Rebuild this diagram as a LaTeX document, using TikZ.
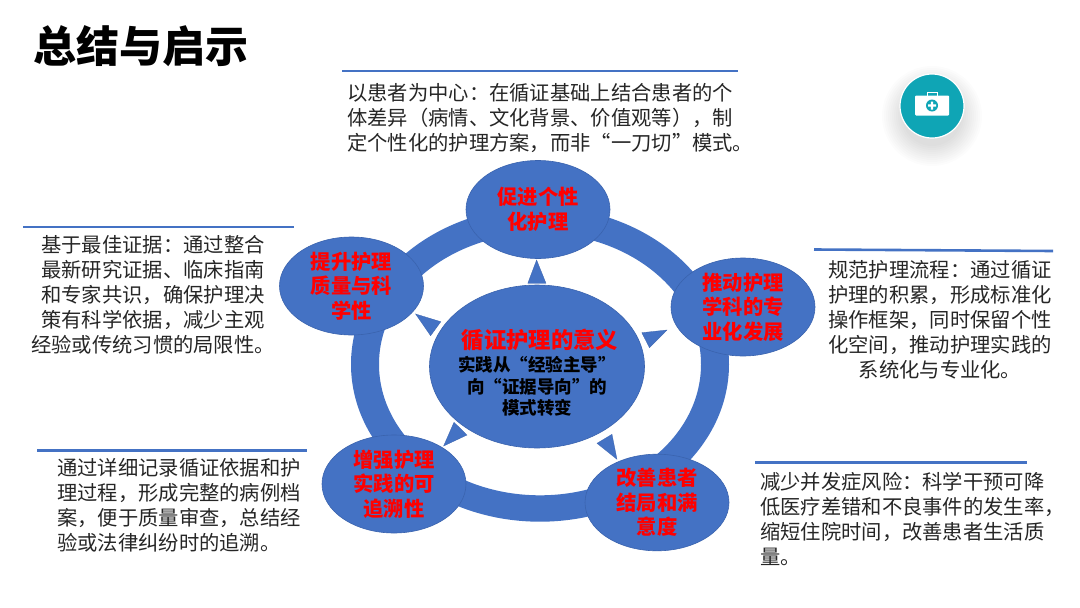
\documentclass[tikz,border=0pt]{standalone}
\usepackage{fontspec}
\usepackage{xcolor}
\setmainfont{Noto Sans CJK SC}
\usetikzlibrary{positioning, calc, shapes.geometric}

\definecolor{ringblue}{HTML}{4472C4}
\definecolor{edgeblue}{HTML}{3A63AE}
\definecolor{iconteal}{HTML}{0FA5B5}

% Full-width punctuation
\newcommand{\fwcomma}{\char"FF0C\relax}
\newcommand{\fwcolon}{\char"FF1A\relax}
\newcommand{\fwopen}{\char"FF08\relax}
\newcommand{\fwclose}{\char"FF09\relax}

\tikzset{
	ellipse node/.style={shape=ellipse, draw=edgeblue, line width=0.6pt, fill=ringblue, inner sep=0pt,
		text=red, align=center, font=\fontsize{20.3}{24.5}\bfseries\selectfont},
	petal/.style={ellipse node, minimum width=144pt, minimum height=98pt},
	bodytext/.style={inner sep=0pt, text=black!85, font=\fontsize{20.3}{25}\selectfont},
	headrule/.style={draw=ringblue, line width=2.6pt},
	pointer/.style={fill=ringblue, draw=edgeblue, line width=0.3pt}
}

\begin{document}
\begin{tikzpicture}[x=1pt, y=-1pt]
	\useasboundingbox (0,0) rectangle (1080,608);
	\fill[white] (0,0) rectangle (1080,608);
	
	% Title
	\node[anchor=west, inner sep=0pt, font=\fontsize{43}{50}\bfseries\selectfont] (title) at (33,46) {总结与启示};
	
	% Ring
	\fill[ringblue, even odd rule] (540,364.3) ellipse [x radius=189, y radius=157.4]
		(540,364.3) ellipse [x radius=161, y radius=131];
	
	% Outer ellipses
	\node[petal] (care) at (538,209.5) {促进个性\\化护理};
	\node[petal] (discipline) at (743,307) {推动护理\\学科的专\\业化发展};
	\node[petal, minimum height=87pt] (outcome) at (657,502.5) {改善患者\\结局和满\\意度};
	\node[petal] (trace) at (394,484) {增强护理\\实践的可\\追溯性};
	\node[petal] (quality) at (351.5,286) {提升护理\\质量与科\\学性};
	
	% Centre ellipse
	\node[ellipse node, minimum width=215pt, minimum height=163pt] (meaning) at (537,366.5) {};
	\node[inner sep=0pt, text=red, font=\fontsize{22.3}{26}\bfseries\selectfont] (meaningtitle) at (540,340) {循证护理的意义};
	\node[inner sep=0pt, align=center, font=\fontsize{17.5}{21.7}\bfseries\selectfont] (meaningtext) at (537,386.5)
		{实践从“经验主导”\\向“证据导向”的\\模式转变};
	
	% Small triangles
	\foreach \ax/\ay/\bx/\by/\cx/\cy in {
		536.6/260/527.8/283.3/546/283.3,
		415.6/314/440.8/321.7/430.6/335.7,
		667/330/641.8/332.7/649.5/347.7,
		617/459.3/612/434.3/597/443.3,
		443.6/446/454/422.3/467/435
	}{
		\filldraw[pointer] (\ax,\ay) -- (\bx,\by) -- (\cx,\cy) -- cycle;
	}
	
	% Text blocks with their rules
	\draw[headrule] (342,71) -- (738,71);
	\node[bodytext, anchor=north west, align=left] (patient) at (347,83)
		{以患者为中心\fwcolon{}在循证基础上结合患者的个\\体差异\fwopen{}病情、文化背景、价值观等\fwclose{}\fwcomma{}制\\定个性化的护理方案\fwcomma{}而非“一刀切”模式。};
	
	\draw[headrule] (23,227) -- (294,227);
	\node[bodytext, anchor=north, align=center] (evidence) at (153,235)
		{基于最佳证据\fwcolon{}通过整合\\最新研究证据、临床指南\\和专家共识\fwcomma{}确保护理决\\策有科学依据\fwcomma{}减少主观\\经验或传统习惯的局限性。};
	
	\draw[headrule] (814,249.5) -- (1053,251);
	\node[bodytext, anchor=north, align=center] (process) at (940,260)
		{规范护理流程\fwcolon{}通过循证\\护理的积累\fwcomma{}形成标准化\\操作框架\fwcomma{}同时保留个性\\化空间\fwcomma{}推动护理实践的\\系统化与专业化。};
	
	\draw[headrule] (37,450.5) -- (307,450.5);
	\node[bodytext, anchor=north west, align=left] (record) at (57,458)
		{通过详细记录循证依据和护\\理过程\fwcomma{}形成完整的病例档\\案\fwcomma{}便于质量审查\fwcomma{}总结经\\验或法律纠纷时的追溯。};
	
	\draw[headrule] (755,462.5) -- (1027,462.5);
	\node[bodytext, anchor=north west, align=left] (risk) at (760,472)
		{减少并发症风险\fwcolon{}科学干预可降\\低医疗差错和不良事件的发生率\fwcomma{}\\缩短住院时间\fwcomma{}改善患者生活质\\量。};
	
	% Icon
	\foreach \r in {30,32,...,50}{
		\fill[black, opacity=0.012] (932,116) circle (\r);
	}
	\filldraw[fill=iconteal, draw=white, line width=1.2pt] (932,106) circle (32);
	\fill[white, rounded corners=1pt] (915,95.5) rectangle (949,115.5);
	\draw[white, line width=1pt] (927,95.5) -- (927,92.5) -- (937,92.5) -- (937,95.5);
	\fill[iconteal] (932,105.5) circle (6);
	\fill[white] (930.8,101.5) rectangle (933.2,109.5) (928,104.3) rectangle (936,106.7);
\end{tikzpicture}
\end{document}
